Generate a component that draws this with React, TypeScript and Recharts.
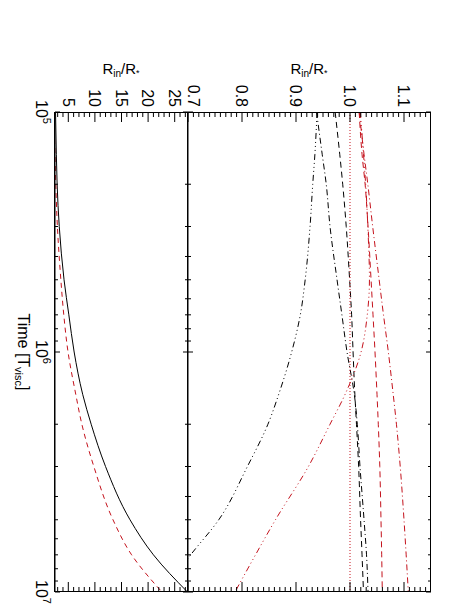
import React from 'react';
import { LineChart, Line, XAxis, YAxis } from 'recharts';

const FONT = '"Liberation Sans", Arial, Helvetica, sans-serif';
const RED = '#c4121c';

// time samples [T_visc]
const times = [1e5, 1.5e5, 2e5, 3e5, 5e5, 7e5, 1e6, 1.5e6, 2e6, 3e6, 5e6, 7e6, 1e7];

// lower panel (left in the picture)
const solidBlack = [2.6, 2.75, 2.9, 3.3, 4.2, 5.1, 6.1, 7.7, 9.3, 12.0, 16.6, 21.0, 27.4];
const dashedRed = [2.3, 2.5, 2.65, 2.95, 3.6, 4.15, 4.95, 6.4, 7.55, 9.8, 13.4, 16.9, 22.6];

// upper panel (right in the picture)
const blackDashDot = [0.938, 0.9485, 0.956, 0.963, 0.976, 0.985, 0.9945, 1.008, 1.0135, 1.0185, 1.026, 1.0306, 1.0334];
const blackDashed = [0.9725, 0.981, 0.9865, 0.993, 0.9993, 1.003, 1.0057, 1.009, 1.012, 1.016, 1.0196, 1.0223, 1.025];
const blackDash3Dot = [0.939, 0.935, 0.931, 0.926, 0.917, 0.908, 0.892, 0.868, 0.848, 0.81, 0.757, 0.705, 0.655];
const redDotted = [1.0, 1.0, 1.0, 1.0, 1.0, 1.0, 1.0, 1.0, 1.0, 1.0, 1.0, 1.0, 1.0];
const redDashed = [1.017, 1.0223, 1.028, 1.0334, 1.039, 1.0426, 1.0463, 1.05, 1.0524, 1.0552, 1.0574, 1.0587, 1.0598];
const redDashDot = [1.017, 1.026, 1.033, 1.042, 1.054, 1.062, 1.071, 1.08, 1.086, 1.093, 1.1, 1.104, 1.108];
const redDash3Dot = [1.019, 1.025, 1.029, 1.033, 1.036, 1.032, 1.0205, 0.991, 0.963, 0.923, 0.862, 0.825, 0.787];

// ticks
const timeTicks = [1e5, 2e5, 3e5, 4e5, 5e5, 6e5, 7e5, 8e5, 9e5, 1e6, 2e6, 3e6, 4e6, 5e6, 6e6, 7e6, 8e6, 9e6, 1e7];
const timeMajor = [1e5, 1e6, 1e7];
const lowerTicks = [3, 4, 5, 6, 7, 8, 9, 10, 11, 12, 13, 14, 15, 16, 17, 18, 19, 20, 21, 22, 23, 24, 25, 26, 27];
const lowerMajor = [5, 10, 15, 20, 25];
const upperTicks = [
  0.7, 0.71, 0.72, 0.73, 0.74, 0.75, 0.76, 0.77, 0.78, 0.79,
  0.8, 0.81, 0.82, 0.83, 0.84, 0.85, 0.86, 0.87, 0.88, 0.89,
  0.9, 0.91, 0.92, 0.93, 0.94, 0.95, 0.96, 0.97, 0.98, 0.99,
  1.0, 1.01, 1.02, 1.03, 1.04, 1.05, 1.06, 1.07, 1.08, 1.09,
  1.1, 1.11, 1.12, 1.13, 1.14,
];
const upperMajor = [0.7, 0.8, 0.9, 1.0, 1.1];

const lowerData = times.map((t, i) => ({ t, solid: solidBlack[i], dashed: dashedRed[i] }));
const upperData = times.map((t, i) => ({
  t,
  bdd: blackDashDot[i],
  bd: blackDashed[i],
  bd3: blackDash3Dot[i],
  rdot: redDotted[i],
  rd: redDashed[i],
  rdd: redDashDot[i],
  rd3: redDash3Dot[i],
}));

const isMajor = (v: number, majors: number[]) => majors.some((m) => Math.abs(m - v) < 1e-6 * Math.max(1, m));

const valueTick = (majors: number[], side: 'left' | 'right', labels: boolean, decimals: number) => (props: any) => {
  const { x, y, payload } = props;
  const major = isMajor(payload.value, majors);
  const len = major ? 10 : 5;
  const dir = side === 'left' ? 1 : -1;
  const shift = labels && Math.abs(payload.value - 0.7) < 1e-6 ? -6 : 0;
  return (
    <g>
      <line x1={x} y1={y} x2={x + dir * len} y2={y} stroke="#000" strokeWidth={1} />
      {labels && major && (
        <text x={x - 5} y={y + 5.7 + shift} textAnchor="end" fontSize={16} fontFamily={FONT} fill="#000">
          {payload.value.toFixed(decimals)}
        </text>
      )}
    </g>
  );
};

const timeTick = (side: 'top' | 'bottom', labels: boolean) => (props: any) => {
  const { x, y, payload } = props;
  const major = isMajor(payload.value, timeMajor);
  const len = major ? 5 : 3;
  const dir = side === 'bottom' ? -1 : 1;
  const exp = Math.round(Math.log10(payload.value));
  return (
    <g>
      <line x1={x} y1={y} x2={x} y2={y + dir * len} stroke="#000" strokeWidth={1} />
      {labels && major && (
        <text x={x} y={y + 19} textAnchor="middle" fontSize={16} fontFamily={FONT} fill="#000">
          <tspan>10</tspan>
          <tspan dy={-7} fontSize={11}>{exp}</tspan>
        </text>
      )}
    </g>
  );
};

const Panel = ({ data, height, margin, domain, ticks, majors, decimals, bottomLabels, children }: any) => (
  <LineChart width={610} height={height} data={data} margin={margin}>
    <XAxis xAxisId="b" dataKey="t" type="number" scale="log" domain={[1e5, 1e7]} allowDataOverflow
      ticks={timeTicks} interval={0} height={1} tickSize={0} tickMargin={0} tickLine={false}
      axisLine={{ stroke: '#000' }} tick={timeTick('bottom', bottomLabels)} />
    <XAxis xAxisId="top" orientation="top" dataKey="t" type="number" scale="log" domain={[1e5, 1e7]} allowDataOverflow
      ticks={timeTicks} interval={0} height={1} tickSize={0} tickMargin={0} tickLine={false}
      axisLine={false} tick={timeTick('top', false)} />
    <YAxis yAxisId="l" type="number" domain={domain} allowDataOverflow ticks={ticks} interval={0}
      width={1} tickSize={0} tickMargin={0} tickLine={false} axisLine={false}
      tick={valueTick(majors, 'left', true, decimals)} />
    <YAxis yAxisId="r" orientation="right" type="number" domain={domain} allowDataOverflow ticks={ticks} interval={0}
      width={1} tickSize={0} tickMargin={0} tickLine={false} axisLine={false}
      tick={valueTick(majors, 'right', false, decimals)} />
    {children}
  </LineChart>
);

const line = (key: string, color: string, dash?: string) => (
  <Line key={key} xAxisId="b" yAxisId="l" type="monotone" dataKey={key} stroke={color} strokeWidth={1}
    strokeDasharray={dash} dot={false} activeDot={false} isAnimationActive={false} />
);

const RinLabel = ({ left }: { left: number }) => (
  <div style={{ position: 'absolute', left, top: 61, width: 80, textAlign: 'center', fontSize: 15, lineHeight: '15px', fontFamily: FONT, color: '#000' }}>
    R<span style={{ fontSize: 10, position: 'relative', top: 3 }}>in</span>/R<span style={{ fontSize: 9, position: 'relative', top: 2 }}>*</span>
  </div>
);

// frame drawn as plain box borders around each plot area
const Frame = ({ top, height }: { top: number; height: number }) => (
  <div style={{ position: 'absolute', left: 112, top, width: 480, height, border: '1px solid #000', boxSizing: 'border-box', pointerEvents: 'none' }} />
);

export default function App() {
  return (
    <div style={{ position: 'absolute', left: 0, top: 0, width: 458, height: 610, overflow: 'hidden', background: '#fff' }}>
      <div style={{ position: 'absolute', left: 458, top: 0, width: 610, height: 458, transform: 'rotate(90deg)', transformOrigin: '0 0' }}>
        <div style={{ position: 'absolute', left: 0, top: 0 }}>
          <Panel data={upperData} height={280} margin={{ top: 26, right: 17, bottom: 9, left: 111 }}
            domain={[0.7, 1.15]} ticks={upperTicks} majors={upperMajor} decimals={1} bottomLabels={false}>
            {line('bd3', '#000', '6 3 1 3 1 3 1 3')}
            {line('bdd', '#000', '6 3 1 3')}
            {line('bd', '#000', '6 4')}
            {line('rdot', RED, '1 2')}
            {line('rd', RED, '6 4')}
            {line('rdd', RED, '6 3 1 3')}
            {line('rd3', RED, '6 3 1 3 1 3 1 3')}
          </Panel>
        </div>
        <div style={{ position: 'absolute', left: 0, top: 260 }}>
          <Panel data={lowerData} height={198} margin={{ top: 9, right: 17, bottom: 54, left: 111 }}
            domain={[2.5, 27.5]} ticks={lowerTicks} majors={lowerMajor} decimals={0} bottomLabels={true}>
            {line('solid', '#000')}
            {line('dashed', RED, '5 4')}
          </Panel>
        </div>
        <Frame top={26.5} height={244} />
        <Frame top={269.5} height={134} />
        <div style={{ position: 'absolute', left: 112, top: 427, width: 480, textAlign: 'center', fontSize: 16, lineHeight: '16px', fontFamily: FONT, color: '#000' }}>
          Time [T<span style={{ fontSize: 11, position: 'relative', top: 3 }}>visc</span>]
        </div>
      </div>
      <RinLabel left={81} />
      <RinLabel left={269} />
    </div>
  );
}
